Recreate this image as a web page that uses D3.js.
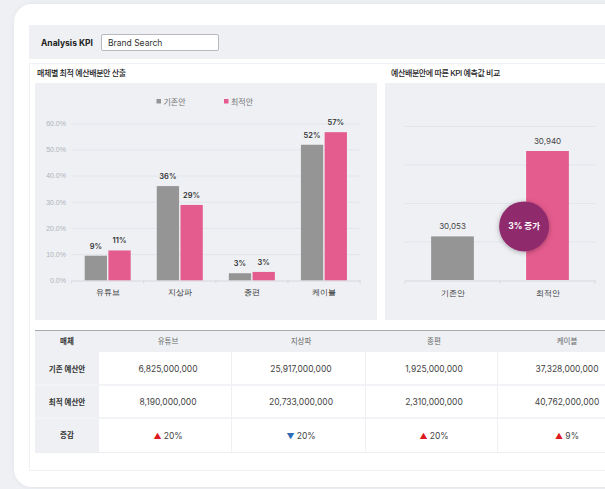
<!DOCTYPE html>
<html>

<head>
    <meta charset="UTF-8">
    <style>
        html, body { margin: 0; padding: 0; background: #eef0f4; }
        svg { display: block; font-family: "Inter", "Noto Sans CJK KR", sans-serif; }
    </style>
    <script src="https://d3js.org/d3.v7.min.js"></script>
</head>

<body>
    <svg id="page"></svg>

    <script>
        // ---- data ----
        const media = ["유튜브", "지상파", "종편", "케이블"];
        const plans = ["기존안", "최적안"];
        const baseShare = [9.4, 36.0, 2.7, 51.8];      // % 기존안
        const optShare = [11.4, 28.8, 3.2, 56.6];      // % 최적안
        const shareTicks = [0, 10, 20, 30, 40, 50, 60];

        const kpiPlans = ["기존안", "최적안"];
        const kpiValues = [30053, 30940];
        const kpiTicks = [29600, 30000, 30400, 30800, 31200];

        const baseBudget = ["6,825,000,000", "25,917,000,000", "1,925,000,000", "37,328,000,000"];
        const optBudget = ["8,190,000,000", "20,733,000,000", "2,310,000,000", "40,762,000,000"];
        const change = [20, -20, 20, 9];

        const width = 605, height = 489;
        const grey = "#959595", pink = "#e45b8d", panel = "#eef0f4";

        let svg = d3.select("#page").attr("width", width).attr("height", height);

        let defs = svg.append("defs");
        let f = defs.append("filter").attr("id", "shadow").attr("x", "-50%").attr("y", "-50%").attr("width", "200%").attr("height", "200%");
        f.append("feDropShadow").attr("dx", 0).attr("dy", 1).attr("stdDeviation", 2.5).attr("flood-color", "#000").attr("flood-opacity", 0.3);
        let fc = defs.append("filter").attr("id", "card").attr("x", "-10%").attr("y", "-10%").attr("width", "120%").attr("height", "120%");
        fc.append("feDropShadow").attr("dx", 0).attr("dy", 0).attr("stdDeviation", 2).attr("flood-color", "#8890a0").attr("flood-opacity", 0.15);

        // page + card
        svg.append("rect").attr("width", width).attr("height", height).attr("fill", panel);
        svg.append("rect").attr("x", 14).attr("y", 4).attr("width", 640).attr("height", 483)
            .attr("rx", 18).attr("fill", "#fff").attr("filter", "url(#card)");

        // KPI selector bar
        svg.append("rect").attr("x", 29).attr("y", 25).attr("width", 600).attr("height", 34).attr("fill", panel);
        svg.append("text").attr("x", 41).attr("y", 45.5).text("Analysis KPI")
            .attr("font-size", 8.5).attr("font-weight", 700).attr("fill", "#222");
        svg.append("rect").attr("x", 101.5).attr("y", 34.5).attr("width", 117).attr("height", 16)
            .attr("rx", 1.5).attr("fill", "#fff").attr("stroke", "#b8bac0");
        svg.append("text").attr("x", 108).attr("y", 45.5).text("Brand Search")
            .attr("font-size", 8.5).attr("fill", "#333");

        // section frame
        svg.append("rect").attr("x", 29.5).attr("y", 63.5).attr("width", 600).attr("height", 407)
            .attr("fill", "#fff").attr("stroke", "#f1f2f5");

        // ---------- left chart ----------
        svg.append("text").attr("x", 37).attr("y", 75.5).text("매체별 최적 예산배분안 산출")
            .attr("font-size", 8).attr("font-weight", 500).attr("fill", "#222").attr("letter-spacing", -0.4);
        svg.append("rect").attr("x", 35).attr("y", 83).attr("width", 342).attr("height", 237).attr("fill", panel);

        let x0 = d3.scaleBand().domain(media).range([71.7, 360]);
        let x1 = d3.scaleBand().domain(plans).range([13, 59]).paddingInner(0.06);
        let y = d3.scaleLinear().domain([0, 60]).range([280.3, 123.3]);

        let left = svg.append("g");

        // grid
        left.append("g").selectAll("line").data(shareTicks.slice(1)).join("line")
            .attr("x1", 71.7).attr("x2", 360)
            .attr("y1", d => y(d) + 0.5).attr("y2", d => y(d) + 0.5)
            .attr("stroke", "#e3e5eb");

        let yAxis = left.append("g").attr("transform", "translate(66,0)")
            .call(d3.axisLeft(y).tickValues(shareTicks).tickFormat(d => d.toFixed(1) + "%").tickSize(0).tickPadding(0));
        yAxis.select(".domain").remove();
        yAxis.selectAll("text").attr("font-size", 7).attr("fill", "#b0b2b8").attr("font-family", null);

        let xAxis = left.append("g").attr("transform", "translate(0,280.5)")
            .call(d3.axisBottom(x0).tickSize(0).tickPadding(9));
        xAxis.select(".domain").attr("stroke", "#d6d8de");
        xAxis.selectAll("text").attr("font-size", 8).attr("fill", "#333").attr("font-family", null);
        // divider ticks between bands
        xAxis.append("g").selectAll("line").data(media.map(m => x0(m)).concat([360])).join("line")
            .attr("x1", d => d).attr("x2", d => d).attr("y1", 0).attr("y2", 3).attr("stroke", "#d6d8de");

        let rows = media.map((m, i) => ({ m, vals: [{ k: "기존안", v: baseShare[i] }, { k: "최적안", v: optShare[i] }] }));
        let grp = left.append("g").selectAll("g").data(rows).join("g")
            .attr("transform", d => "translate(" + x0(d.m) + ",0)");
        grp.selectAll("rect").data(d => d.vals).join("rect")
            .attr("x", d => x1(d.k)).attr("width", x1.bandwidth())
            .attr("y", d => y(d.v)).attr("height", d => y(0) - y(d.v))
            .attr("fill", d => d.k == "기존안" ? grey : pink);
        grp.selectAll("text").data(d => d.vals).join("text")
            .attr("x", d => x1(d.k) + x1.bandwidth() / 2).attr("y", d => y(d.v) - 7)
            .attr("text-anchor", "middle").attr("font-size", 7.5).attr("font-weight", 600).attr("fill", "#333")
            .text(d => Math.round(d.v) + "%");

        // legend
        let leg = left.append("g").selectAll("g").data(plans).join("g")
            .attr("transform", (d, i) => "translate(" + (156.5 + i * 67.5) + ",101.5)");
        leg.append("rect").attr("y", -2.5).attr("width", 4.5).attr("height", 4.5)
            .attr("fill", d => d == "기존안" ? grey : pink);
        leg.append("text").attr("x", 7).attr("y", 3).text(d => d)
            .attr("font-size", 8).attr("fill", "#777");

        // ---------- right chart ----------
        svg.append("text").attr("x", 391).attr("y", 75.5).text("예산배분안에 따른 KPI 예측값 비교")
            .attr("font-size", 8).attr("font-weight", 500).attr("fill", "#222").attr("letter-spacing", -0.4);
        svg.append("rect").attr("x", 385).attr("y", 83).attr("width", 240).attr("height", 237).attr("fill", panel);

        let xr = d3.scaleBand().domain(kpiPlans).range([405, 595]).paddingInner(0.55).paddingOuter(0.275);
        let yr = d3.scaleLinear().domain([29600, 31200]).range([280, 126]);
        let right = svg.append("g");

        right.append("g").selectAll("line").data(kpiTicks.slice(1)).join("line")
            .attr("x1", 405).attr("x2", 595)
            .attr("y1", d => yr(d) + 0.5).attr("y2", d => yr(d) + 0.5)
            .attr("stroke", "#e3e5eb");

        let xrAxis = right.append("g").attr("transform", "translate(0,280.5)")
            .call(d3.axisBottom(xr).tickSize(0).tickPadding(10));
        xrAxis.select(".domain").attr("stroke", "#d6d8de");
        xrAxis.selectAll("text").attr("font-size", 8).attr("fill", "#333").attr("font-family", null);
        xrAxis.append("g").selectAll("line").data([405, 500, 595]).join("line")
            .attr("x1", d => d).attr("x2", d => d).attr("y1", 0).attr("y2", 3).attr("stroke", "#d6d8de");

        let kpi = kpiPlans.map((k, i) => ({ k, v: kpiValues[i] }));
        right.append("g").selectAll("rect").data(kpi).join("rect")
            .attr("x", d => xr(d.k)).attr("width", xr.bandwidth())
            .attr("y", d => yr(d.v)).attr("height", d => yr(29600) - yr(d.v))
            .attr("fill", d => d.k == "기존안" ? grey : pink);
        right.append("g").selectAll("text").data(kpi).join("text")
            .attr("x", d => xr(d.k) + xr.bandwidth() / 2).attr("y", d => yr(d.v) - 7)
            .attr("text-anchor", "middle").attr("font-size", 8).attr("fill", "#444")
            .text(d => d3.format(",")(d.v));

        // increase badge
        let inc = Math.round((kpiValues[1] - kpiValues[0]) / kpiValues[0] * 100);
        let cx = xr("최적안") - 2, cy = yr(kpiValues[0]) - 10;
        right.append("circle").attr("cx", cx).attr("cy", cy).attr("r", 25)
            .attr("fill", "#8f2b6c").attr("filter", "url(#shadow)");
        right.append("text").attr("x", cx).attr("y", cy + 3).attr("text-anchor", "middle")
            .attr("font-size", 8.5).attr("font-weight", 700).attr("fill", "#fff")
            .text(inc + "% 증가");

        // ---------- table ----------
        const colX = [35, 99, 231, 365, 497, 631];
        const rowY = [330, 352, 385, 418, 452];
        let tbl = svg.append("g");

        tbl.append("rect").attr("x", colX[0]).attr("y", rowY[0]).attr("width", 600).attr("height", rowY[1] - rowY[0]).attr("fill", panel);
        tbl.append("rect").attr("x", colX[0]).attr("y", rowY[0]).attr("width", colX[1] - colX[0]).attr("height", rowY[4] - rowY[0]).attr("fill", panel);
        tbl.append("line").attr("x1", colX[0]).attr("x2", 605).attr("y1", rowY[0] + 0.5).attr("y2", rowY[0] + 0.5).attr("stroke", "#a8aab0");
        // row separators
        tbl.append("g").selectAll("line").data(rowY.slice(2, 4)).join("line")
            .attr("x1", colX[0]).attr("x2", 605).attr("y1", d => d).attr("y2", d => d)
            .attr("stroke", "#f2f3f6").attr("stroke-width", 2);
        tbl.append("line").attr("x1", colX[0]).attr("x2", 605).attr("y1", rowY[4] + 0.5).attr("y2", rowY[4] + 0.5).attr("stroke", "#eceef2");
        // column separators
        tbl.append("g").selectAll("line").data(colX.slice(2, 5)).join("line")
            .attr("x1", d => d + 0.5).attr("x2", d => d + 0.5).attr("y1", rowY[1]).attr("y2", rowY[4])
            .attr("stroke", "#eef0f4");

        const rowLabels = ["매체", "기존 예산안", "최적 예산안", "증감"];
        tbl.append("g").selectAll("text").data(rowLabels).join("text")
            .attr("x", (colX[0] + colX[1]) / 2).attr("y", (d, i) => (rowY[i] + rowY[i + 1]) / 2 + 3)
            .attr("text-anchor", "middle").attr("font-size", 7.5).attr("font-weight", 600).attr("fill", "#333")
            .text(d => d);

        let colC = i => (colX[i + 1] + colX[i + 2]) / 2 + 3;
        tbl.append("g").selectAll("text").data(media).join("text")
            .attr("x", (d, i) => colC(i)).attr("y", (rowY[0] + rowY[1]) / 2 + 3)
            .attr("text-anchor", "middle").attr("font-size", 7.5).attr("fill", "#666").text(d => d);

        [baseBudget, optBudget].forEach((arr, r) => {
            tbl.append("g").selectAll("text").data(arr).join("text")
                .attr("x", (d, i) => colC(i)).attr("y", (rowY[r + 1] + rowY[r + 2]) / 2 + 3.5)
                .attr("text-anchor", "middle").attr("font-size", 8.5).attr("fill", "#444").text(d => d);
        });

        let chg = tbl.append("g").selectAll("text").data(change).join("text")
            .attr("x", (d, i) => colC(i)).attr("y", (rowY[3] + rowY[4]) / 2 + 3.5)
            .attr("text-anchor", "middle").attr("font-size", 8.5).attr("fill", "#444");
        chg.append("tspan").attr("fill", d => d >= 0 ? "#e0191e" : "#2e6bb7").attr("font-size", 8)
            .text(d => d >= 0 ? "▲ " : "▼ ");
        chg.append("tspan").text(d => Math.abs(d) + "%");
    </script>

</body>

</html>
